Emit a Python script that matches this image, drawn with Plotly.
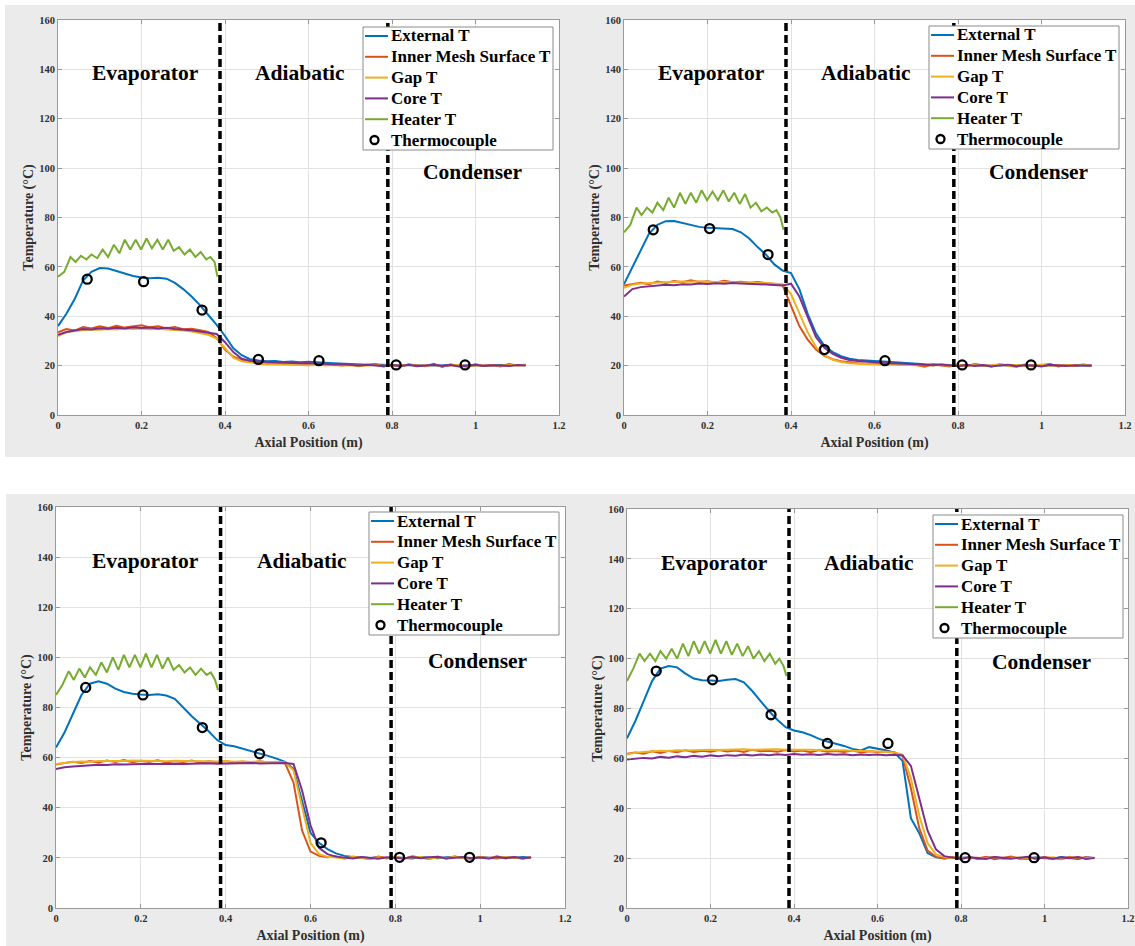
import plotly.graph_objects as go

# ---------------------------------------------------------------------------
# Axial sample positions (m) shared by the internal temperature profiles
X_POS = [0.00, 0.02, 0.04, 0.06, 0.08, 0.10, 0.12, 0.14, 0.16, 0.18,
         0.20, 0.22, 0.24, 0.26, 0.28, 0.30, 0.32, 0.34, 0.36, 0.38,
         0.40, 0.42, 0.44, 0.46, 0.48, 0.50, 0.52, 0.54, 0.56, 0.58,
         0.60, 0.62, 0.64, 0.66, 0.68, 0.70, 0.72, 0.74, 0.76, 0.78,
         0.80, 0.82, 0.84, 0.86, 0.88, 0.90, 0.92, 0.94, 0.96, 0.98,
         1.00, 1.02, 1.04, 1.06, 1.08, 1.10, 1.12]

# Heater surface positions (m), evaporator section only
HEATER_X = [0.000, 0.015, 0.030, 0.042, 0.055, 0.068, 0.080, 0.094, 0.107, 0.120,
            0.134, 0.147, 0.160, 0.173, 0.186, 0.199, 0.212, 0.225, 0.238, 0.251,
            0.264, 0.277, 0.290, 0.303, 0.316, 0.329, 0.342, 0.355, 0.365, 0.375,
            0.382]

# Thermocouple locations (m)
TC_X = [0.07, 0.205, 0.345, 0.48, 0.625, 0.81, 0.975]

# Section boundaries (m) and section labels
SECTION_BOUNDS = [0.388, 0.79]
ZONE_NAMES = ["Evaporator", "Adiabatic", "Condenser"]
ZONE_X = [0.21, 0.58, 0.995]
ZONE_Y = [138.5, 138.5, 98.5]

SERIES_NAMES = ["External T", "Inner Mesh Surface T", "Gap T", "Core T",
                "Heater T", "Thermocouple"]

# ---------------------------- Case 1 ---------------------------------------
EXT_1 = [36, 41, 47, 54.5, 58, 59.5, 59.3, 58.2, 57.1, 56.3,
         55.7, 55.4, 55.6, 55.2, 53.5, 51, 48, 44.5, 40.5, 36.5,
         32, 27, 24.2, 22.6, 22.1, 21.8, 21.9, 21.5, 21.7, 21.4,
         21.6, 21.3, 21.2, 21.0, 20.8, 20.6, 20.5, 20.4, 20.5, 20.3,
         20.2, 20.0, 20.3, 20.1, 19.9, 20.2, 20.0, 20.3, 19.9, 20.1,
         20.2, 19.9, 20.1, 20.3, 20.0, 20.2, 20.3]
MESH_1 = [33.5, 34.8, 34.2, 35.6, 35.0, 35.9, 35.2, 36.1, 35.4, 35.8,
          36.3, 35.5, 35.9, 35.1, 35.6, 34.7, 34.9, 34.3, 33.6, 31.2,
          26.5, 23.6, 22.3, 21.6, 21.2, 21.0, 20.8, 21.1, 20.7, 20.9,
          20.6, 20.4, 20.8, 20.3, 20.1, 20.5, 19.8, 20.2, 20.6, 19.7,
          20.3, 19.6, 20.5, 20.1, 19.8, 20.7, 19.5, 20.4, 20.0, 19.6,
          20.5, 19.9, 20.2, 19.7, 20.6, 20.1, 20.4]
GAP_1 = [32.0, 33.5, 34.0, 34.3, 34.6, 34.5, 34.8, 34.6, 35.0, 34.8,
         35.0, 34.7, 34.9, 34.6, 34.5, 34.2, 33.8, 33.2, 32.5, 31.0,
         27.0, 23.2, 21.8, 21.2, 20.8, 20.6, 20.5, 20.4, 20.5, 20.3,
         20.2, 20.4, 20.1, 20.3, 20.0, 20.2, 19.9, 20.1, 20.3, 19.9,
         20.2, 20.0, 20.3, 19.9, 20.1, 20.2, 19.8, 20.1, 20.3, 19.9,
         20.1, 20.0, 20.2, 19.9, 20.1, 20.3, 20.0]
CORE_1 = [32.5, 33.6, 34.2, 34.8, 34.6, 35.1, 34.9, 35.3, 35.0, 35.5,
          35.2, 35.4, 35.0, 35.3, 34.8, 34.6, 34.3, 33.8, 33.4, 32.8,
          29.5, 25.5, 22.8, 22.0, 21.7, 21.5, 21.3, 21.4, 21.2, 21.0,
          21.1, 20.8, 20.7, 20.5, 20.6, 20.3, 20.1, 20.4, 20.0, 19.8,
          20.2, 19.9, 20.3, 19.8, 20.1, 20.4, 19.9, 20.2, 19.7, 20.0,
          20.3, 19.9, 20.2, 20.0, 19.8, 20.3, 20.1]
HEATER_1 = [56, 58, 64, 62, 64.5, 63, 65, 63.5, 67, 64,
            69, 65.5, 71, 67, 71, 67, 71.5, 67.5, 71, 67,
            71, 66.5, 68, 65, 67, 64, 66, 63, 64, 62,
            56]
TC_1 = [55, 54, 42.5, 22.5, 22, 20.3, 20.3]

# ---------------------------- Case 2 ---------------------------------------
EXT_2 = [53, 60, 67, 73.5, 77, 78.5, 78.6, 77.8, 76.7, 76.2,
         75.8, 75.6, 75.7, 75.3, 74, 71.5, 68, 65, 61, 58.5,
         57.5, 51, 41, 33, 28, 25.5, 23.8, 22.8, 22.3, 22.0,
         21.8, 21.7, 21.5, 21.2, 21.0, 20.8, 20.6, 20.5, 20.3, 20.4,
         20.2, 20.0, 20.3, 19.9, 20.1, 20.2, 20.0, 20.3, 19.9, 20.1,
         20.2, 20.0, 20.1, 20.3, 19.9, 20.2, 20.1]
MESH_2 = [52.5, 53.2, 53.6, 53.0, 54.1, 53.5, 54.3, 53.8, 54.6, 53.9,
          54.2, 53.7, 54.4, 53.8, 54.0, 53.6, 53.9, 53.4, 53.2, 52.5,
          44, 36, 30.5, 26.5, 24, 22.6, 21.8, 21.3, 21.0, 20.8,
          21.2, 20.6, 20.9, 20.4, 20.7, 20.2, 19.6, 20.5, 20.1, 19.7,
          20.4, 19.8, 20.6, 20.0, 19.7, 20.5, 20.1, 19.6, 20.4, 19.8,
          20.3, 20.7, 19.7, 20.2, 19.9, 20.5, 20.1]
GAP_2 = [51.5, 52.8, 53.3, 53.5, 53.7, 53.9, 54.0, 54.1, 54.0, 54.2,
         54.0, 53.9, 54.1, 53.8, 53.9, 53.7, 53.6, 53.4, 53.2, 53.0,
         49, 41, 33.5, 27.5, 24.2, 22.4, 21.5, 21.0, 20.8, 20.6,
         20.5, 20.4, 20.5, 20.3, 20.4, 20.2, 20.3, 20.1, 20.4, 20.0,
         20.3, 20.1, 20.4, 20.0, 20.2, 20.5, 20.1, 20.3, 19.9, 20.2,
         20.4, 20.0, 20.3, 20.1, 20.2, 20.4, 20.0]
CORE_2 = [48, 51, 51.8, 52.2, 52.4, 52.8, 52.6, 53.0, 52.9, 53.3,
          53.1, 53.4, 53.2, 53.5, 53.3, 53.2, 53.0, 52.8, 52.7, 52.5,
          53.2, 48, 39.5, 31.5, 27.2, 24.8, 23.2, 22.3, 21.9, 21.6,
          21.4, 21.2, 21.0, 20.9, 20.7, 20.5, 20.4, 20.2, 20.5, 20.1,
          19.8, 20.3, 19.9, 20.2, 19.7, 20.1, 20.4, 19.8, 20.2, 20.0,
          19.7, 20.3, 20.0, 19.8, 20.2, 20.1, 19.9]
HEATER_2 = [74, 77, 84, 81, 84, 82, 86, 83, 88, 84,
            90, 85.5, 90, 86, 91, 87, 90.5, 87, 91, 86.5,
            90, 85.5, 89.5, 84, 86, 82.5, 84, 82, 83, 80,
            75]
TC_2 = [75, 75.5, 65, 26.5, 22, 20.3, 20.3]

# ---------------------------- Case 3 ---------------------------------------
EXT_3 = [64, 70, 77.5, 85, 89.5, 90.5, 89.5, 87.5, 86.2, 85.5,
         85.2, 85.0, 85.3, 84.8, 83.5, 80, 76.5, 73.5, 70.5, 67,
         65, 64.5, 63.6, 62.6, 61.6, 60.7, 59.6, 58.3, 55.5, 43,
         30, 26, 23.5, 21.8, 20.8, 20.4, 20.2, 20.0, 20.3, 19.9,
         20.2, 20.0, 19.8, 20.3, 20.1, 19.9, 20.2, 20.4, 20.0, 19.8,
         20.3, 20.1, 19.9, 20.2, 20.0, 20.3, 20.1]
MESH_3 = [57.2, 57.8, 58.4, 57.9, 58.6, 58.1, 58.8, 58.3, 59.0, 58.2,
          58.7, 58.4, 58.9, 58.1, 58.6, 58.3, 58.8, 58.0, 58.5, 58.2,
          58.6, 58.0, 58.4, 57.9, 58.5, 58.1, 58.3, 57.8, 50, 31,
          22.5, 20.8, 20.3, 20.6, 19.8, 20.4, 20.0, 19.6, 20.5, 19.9,
          20.3, 19.7, 20.6, 20.0, 19.6, 20.4, 19.8, 20.5, 20.1, 19.6,
          20.4, 19.9, 20.6, 19.8, 20.2, 19.7, 20.3]
GAP_3 = [57.5, 58.0, 58.3, 58.5, 58.4, 58.7, 58.6, 58.8, 58.7, 58.9,
         58.8, 58.7, 58.9, 58.6, 58.8, 58.7, 58.9, 58.6, 58.7, 58.5,
         58.7, 58.4, 58.6, 58.3, 58.5, 58.2, 58.4, 58.1, 55, 40,
         26, 21.5, 20.4, 20.1, 19.8, 20.3, 20.0, 19.7, 20.2, 19.9,
         20.4, 19.8, 20.1, 20.3, 19.7, 20.2, 19.9, 20.4, 20.0, 19.8,
         20.2, 20.0, 19.7, 20.3, 20.1, 19.9, 20.2]
CORE_3 = [55.5, 56.2, 56.5, 56.8, 57.0, 57.2, 57.1, 57.4, 57.3, 57.5,
          57.4, 57.6, 57.5, 57.7, 57.6, 57.5, 57.7, 57.6, 57.8, 57.6,
          57.7, 57.8, 57.6, 57.9, 57.7, 57.8, 58.0, 57.9, 57.5, 47,
          33, 24, 21.5, 20.5, 20.1, 19.8, 20.3, 20.0, 19.7, 20.2,
          20.0, 19.8, 20.3, 19.9, 20.2, 20.4, 19.8, 20.1, 20.3, 19.9,
          20.1, 19.8, 20.2, 20.0, 20.3, 19.9, 20.1]
HEATER_3 = [85, 89, 94.5, 91, 95.5, 92, 96, 93, 98, 94,
            100, 95, 101, 96, 101, 96, 101.5, 96, 101, 95.5,
            100, 95, 97, 94, 96, 93, 95.5, 93, 94, 91,
            87]
TC_3 = [88, 85, 72, 61.5, 26, 20.2, 20.2]

# ---------------------------- Case 4 ---------------------------------------
EXT_4 = [68, 75, 83, 91, 96, 97, 96.5, 94, 92, 91.3,
         91.2, 91.0, 91.5, 91.8, 90.5, 87, 83, 79, 75.5, 72.5,
         71.2, 70.5, 69.3, 67.8, 66.8, 66, 65, 63.8, 63.2, 64.5,
         64, 63.3, 62.3, 59, 36, 30, 22, 20.3, 20.1, 20.2,
         20.0, 20.3, 19.8, 20.1, 20.4, 19.9, 20.2, 20.0, 19.7, 20.3,
         20.1, 19.8, 20.4, 20.0, 19.7, 20.3, 20.1]
MESH_4 = [61.8, 62.4, 61.9, 62.8, 62.2, 63.0, 62.5, 63.3, 62.6, 63.1,
          62.7, 63.4, 62.8, 63.2, 62.6, 63.5, 62.9, 63.1, 62.7, 63.4,
          62.8, 63.2, 62.5, 63.3, 62.7, 63.0, 62.6, 63.2, 62.4, 62.9,
          62.6, 62.8, 62.5, 61, 48, 32, 23, 20.5, 19.8, 20.4,
          19.7, 20.3, 19.9, 20.5, 19.6, 20.2, 20.6, 19.8, 20.3, 19.7,
          20.4, 20.0, 19.6, 20.5, 19.9, 20.3, 20.0]
GAP_4 = [61.5, 62.3, 62.6, 62.9, 63.1, 63.0, 63.3, 63.2, 63.4, 63.3,
         63.5, 63.4, 63.6, 63.5, 63.7, 63.5, 63.6, 63.4, 63.7, 63.5,
         63.6, 63.4, 63.5, 63.3, 63.4, 63.2, 63.3, 63.1, 63.2, 63.0,
         62.8, 62.6, 62.4, 61.5, 52, 37, 26, 21.5, 20.4, 20.1,
         20.3, 19.9, 20.2, 20.0, 20.4, 19.8, 20.1, 20.3, 19.9, 20.2,
         20.0, 20.3, 19.8, 20.1, 20.4, 19.9, 20.2]
CORE_4 = [59.5, 59.8, 60.2, 60.0, 60.6, 60.3, 60.8, 60.5, 61.0, 60.7,
          61.2, 60.9, 61.3, 61.1, 61.5, 61.2, 61.6, 61.3, 61.7, 61.4,
          61.8, 61.5, 61.7, 61.4, 61.8, 61.5, 61.7, 61.3, 61.6, 61.4,
          61.6, 61.3, 61.5, 61.2, 57, 44, 31, 23.5, 20.8, 20.2,
          19.8, 20.3, 20.0, 19.7, 20.4, 20.1, 19.8, 20.2, 20.5, 19.9,
          20.2, 19.8, 20.3, 20.0, 20.4, 19.7, 20.1]
HEATER_4 = [91, 96, 102, 99, 102, 99, 103, 100, 104, 100,
            106, 101, 107, 102, 107, 102, 107.5, 102, 107, 101.5,
            106, 101, 105, 100, 103, 99, 102, 98, 100, 97,
            93]
TC_4 = [95, 91.5, 77.5, 66, 66, 20.2, 20.2]

# ---------------------------------------------------------------------------
FONT = "Liberation Serif"
COLORS = ["#0072BD", "#D95319", "#EDB120", "#7E2F8E", "#77AC30"]
FIG_W, FIG_H = 1135, 946
GREY_BG = "#ebebeb"

CASES = [
    (EXT_1, MESH_1, GAP_1, CORE_1, HEATER_1, TC_1),
    (EXT_2, MESH_2, GAP_2, CORE_2, HEATER_2, TC_2),
    (EXT_3, MESH_3, GAP_3, CORE_3, HEATER_3, TC_3),
    (EXT_4, MESH_4, GAP_4, CORE_4, HEATER_4, TC_4),
]

# Panel plot-area boxes in pixels: (left, right, top, bottom)
PANEL_BOX = [(58, 559, 20, 415), (624, 1125, 20, 415),
             (56, 565, 507, 908), (627, 1128, 509, 908)]
# Legend box top-left corner in pixels
LEGEND_POS = [(363, 27), (929, 26), (369, 512), (933, 515)]
LEGEND_W, LEGEND_H, LEGEND_ROW = 190, 123, 20.8


def px_x(v):
    return v / FIG_W


def px_y(v):
    return 1 - v / FIG_H


fig = go.Figure()

# Grey figure panels behind the two rows of axes
fig.add_shape(type="rect", xref="paper", yref="paper", layer="below",
              x0=px_x(5), x1=1, y0=px_y(457), y1=px_y(5),
              fillcolor=GREY_BG, line=dict(width=0))
fig.add_shape(type="rect", xref="paper", yref="paper", layer="below",
              x0=px_x(6), x1=1, y0=0, y1=px_y(494),
              fillcolor=GREY_BG, line=dict(width=0))

tick_font = dict(family=FONT, size=10.5, color="#303030", weight="bold")
title_font = dict(family=FONT, size=14, color="#303030", weight="bold")

for i, case in enumerate(CASES):
    suffix = "" if i == 0 else str(i + 1)
    xa, ya = "x" + suffix, "y" + suffix
    ext, mesh, gap, core, heater, tc = case

    # white axes background
    fig.add_shape(type="rect", xref=xa + " domain", yref=ya + " domain", layer="below",
                  x0=0, x1=1, y0=0, y1=1, fillcolor="white", line=dict(width=0))

    for name, ys, col in zip(SERIES_NAMES[:4], (ext, mesh, gap, core), COLORS[:4]):
        fig.add_trace(go.Scatter(x=X_POS, y=ys, mode="lines", name=name,
                                 line=dict(color=col, width=2),
                                 xaxis=xa, yaxis=ya, showlegend=False))
    fig.add_trace(go.Scatter(x=HEATER_X, y=heater, mode="lines", name=SERIES_NAMES[4],
                             line=dict(color=COLORS[4], width=2),
                             xaxis=xa, yaxis=ya, showlegend=False))
    fig.add_trace(go.Scatter(x=TC_X, y=tc, mode="markers", name=SERIES_NAMES[5],
                             marker=dict(symbol="circle-open", size=9, color="black",
                                         line=dict(width=2.3, color="black")),
                             xaxis=xa, yaxis=ya, showlegend=False))

    # Section boundaries
    for xb in SECTION_BOUNDS:
        fig.add_shape(type="line", xref=xa, yref=ya + " domain", x0=xb, x1=xb, y0=0, y1=1,
                      line=dict(color="black", width=3.5, dash="8px,4px"))

    # Section names
    for name, zx, zy in zip(ZONE_NAMES, ZONE_X, ZONE_Y):
        fig.add_annotation(x=zx, y=zy, xref=xa, yref=ya, text=name, showarrow=False,
                           font=dict(family=FONT, size=21.5, color="black", weight="bold"))

    # Legend box (drawn as layout items so row spacing follows the figure style)
    lx, ly = LEGEND_POS[i]
    fig.add_shape(type="rect", xref="paper", yref="paper",
                  x0=px_x(lx), x1=px_x(lx + LEGEND_W), y0=px_y(ly + LEGEND_H), y1=px_y(ly),
                  fillcolor="white", line=dict(color="#8a8a8a", width=1))
    for k, name in enumerate(SERIES_NAMES):
        cy = ly + 9 + k * LEGEND_ROW
        if k < 5:
            fig.add_shape(type="line", xref="paper", yref="paper",
                          x0=px_x(lx + 2), x1=px_x(lx + 25), y0=px_y(cy), y1=px_y(cy),
                          line=dict(color=COLORS[k], width=2))
        else:
            fig.add_shape(type="circle", xref="paper", yref="paper",
                          x0=px_x(lx + 7.5), x1=px_x(lx + 15.5),
                          y0=px_y(cy + 4), y1=px_y(cy - 4),
                          line=dict(color="black", width=2.3))
        fig.add_annotation(x=px_x(lx + 26), y=px_y(cy), xref="paper", yref="paper",
                           text=name, showarrow=False, xanchor="left", yanchor="middle",
                           font=dict(family=FONT, size=17, color="black", weight="bold"))

    left, right, top, bottom = PANEL_BOX[i]
    common = dict(showline=True, linecolor="#999999", linewidth=1, mirror="ticks",
                  ticks="inside", ticklen=4, tickcolor="#999999",
                  showgrid=True, gridcolor="#e2e2e2", gridwidth=1, zeroline=False,
                  tickfont=tick_font, automargin=False)
    fig.update_layout({
        "xaxis" + suffix: dict(domain=[px_x(left), px_x(right)], anchor=ya,
                               range=[0, 1.2], dtick=0.2, tick0=0,
                               title=dict(text="Axial Position (m)", font=title_font, standoff=7),
                               **common),
        "yaxis" + suffix: dict(domain=[px_y(bottom), px_y(top)], anchor=xa,
                               range=[0, 160], dtick=20, tick0=0,
                               title=dict(text="Temperature (°C)", font=title_font, standoff=2),
                               **common),
    })

fig.update_layout(width=FIG_W, height=FIG_H,
                  margin=dict(l=0, r=0, t=0, b=0),
                  paper_bgcolor="white", plot_bgcolor="white",
                  font=dict(family=FONT), showlegend=False,
                  hovermode=False)

fig.write_html("out.html", config={"displayModeBar": False})
